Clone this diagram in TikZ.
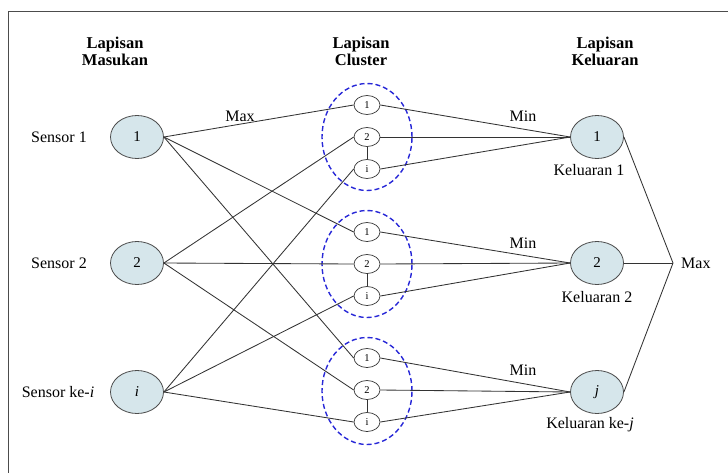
\documentclass[tikz,border=0pt]{standalone}
\usepackage{fontspec}
\setmainfont{Liberation Serif}
\usetikzlibrary{shapes.geometric}
\definecolor{nodefill}{RGB}{214,230,235}
\definecolor{dashblue}{RGB}{40,40,215}
\begin{document}
\begin{tikzpicture}[x=1pt,y=-1pt,
  lbl/.style={font=\fontsize{16}{19}\selectfont, inner sep=0pt},
  hdr/.style={font=\fontsize{16.5}{17}\selectfont\bfseries, align=center, inner sep=0pt},
  big/.style={ellipse, draw=black!70, fill=nodefill, line width=0.8pt, minimum width=53pt, minimum height=43pt, inner sep=0pt, font=\fontsize{15}{18}\selectfont},
  sm/.style={ellipse, draw=black!80, fill=white, line width=0.7pt, minimum width=26pt, minimum height=19pt, inner sep=0pt, font=\fontsize{10.5}{12}\selectfont},
  grp/.style={ellipse, draw=dashblue, line width=1.4pt, dash pattern=on 5pt off 3pt, minimum width=90pt, minimum height=107pt, inner sep=0pt},
  wire/.style={draw=black!80, line width=0.85pt}]
\useasboundingbox (0,0) rectangle (728,472);
\draw[black!70, line width=1pt] (8,475) -- (8,11) -- (730,11);

% headers
\node[hdr] (h1) at (115,51.5) {Lapisan\\Masukan};
\node[hdr] (h2) at (361,51.5) {Lapisan\\Cluster};
\node[hdr] (h3) at (605,51.5) {Lapisan\\Keluaran};

% cluster groups
\node[grp] (g1) at (367,137) {};
\node[grp] (g2) at (367,264) {};
\node[grp] (g3) at (367,391) {};

% input nodes
\node[big] (in1) at (137,137) {1};
\node[big] (in2) at (137,263) {2};
\node[big] (ini) at (137,392) {\itshape i};
\node[lbl] (s1) at (59,137) {Sensor 1};
\node[lbl] (s2) at (59,263) {Sensor 2};
\node[lbl] (si) at (58,392) {Sensor ke-\textit{i}};

% output nodes
\node[big] (o1) at (597,137) {1};
\node[big] (o2) at (597,263) {2};
\node[big] (oj) at (597,392) {\itshape j};
\node[lbl] (k1) at (589,170) {Keluaran 1};
\node[lbl] (k2) at (597,297) {Keluaran 2};
\node[lbl] (kj) at (590,425) {Keluaran ke-\textit{j}};

% cluster nodes
\node[sm] (a1) at (367,105) {1};
\node[sm] (a2) at (367,137) {2};
\node[sm] (ai) at (367,169) {i};
\node[sm] (b1) at (367,232) {1};
\node[sm] (b2) at (367,264) {2};
\node[sm] (bi) at (367,296) {i};
\node[sm] (c1) at (367,358) {1};
\node[sm] (c2) at (367,390) {2};
\node[sm] (ci) at (367,422) {i};

\coordinate (mx) at (673,263);
\node[lbl, anchor=west] (mxl) at (681,263) {Max};

% labels
\node[lbl] (lmax) at (240,116) {Max};
\node[lbl] (lmin1) at (523,116) {Min};
\node[lbl] (lmin2) at (523,243) {Min};
\node[lbl] (lmin3) at (523,370) {Min};

% wires input -> cluster
\draw[wire] (in1.east) -- (a1.west);
\draw[wire] (in1.east) -- (b1.west);
\draw[wire] (in1.east) -- (c1.west);
\draw[wire] (in2.east) -- (a2.west);
\draw[wire] (in2.east) -- (b2.west);
\draw[wire] (in2.east) -- (c2.west);
\draw[wire] (ini.east) -- (ai.west);
\draw[wire] (ini.east) -- (bi.west);
\draw[wire] (ini.east) -- (ci.west);

% within clusters
\draw[wire, line width=0.6pt] (a2.south) -- (ai.north);
\draw[wire, line width=0.6pt] (b2.south) -- (bi.north);
\draw[wire, line width=0.6pt] (c2.south) -- (ci.north);

% cluster -> output
\foreach \n in {a1,a2,ai} \draw[wire] (\n.east) -- (o1.west);
\foreach \n in {b1,b2,bi} \draw[wire] (\n.east) -- (o2.west);
\foreach \n in {c1,c2,ci} \draw[wire] (\n.east) -- (oj.west);

% output -> max
\draw[wire] (o1.east) -- (mx);
\draw[wire] (o2.east) -- (mx);
\draw[wire] (oj.east) -- (mx);
\end{tikzpicture}
\end{document}
